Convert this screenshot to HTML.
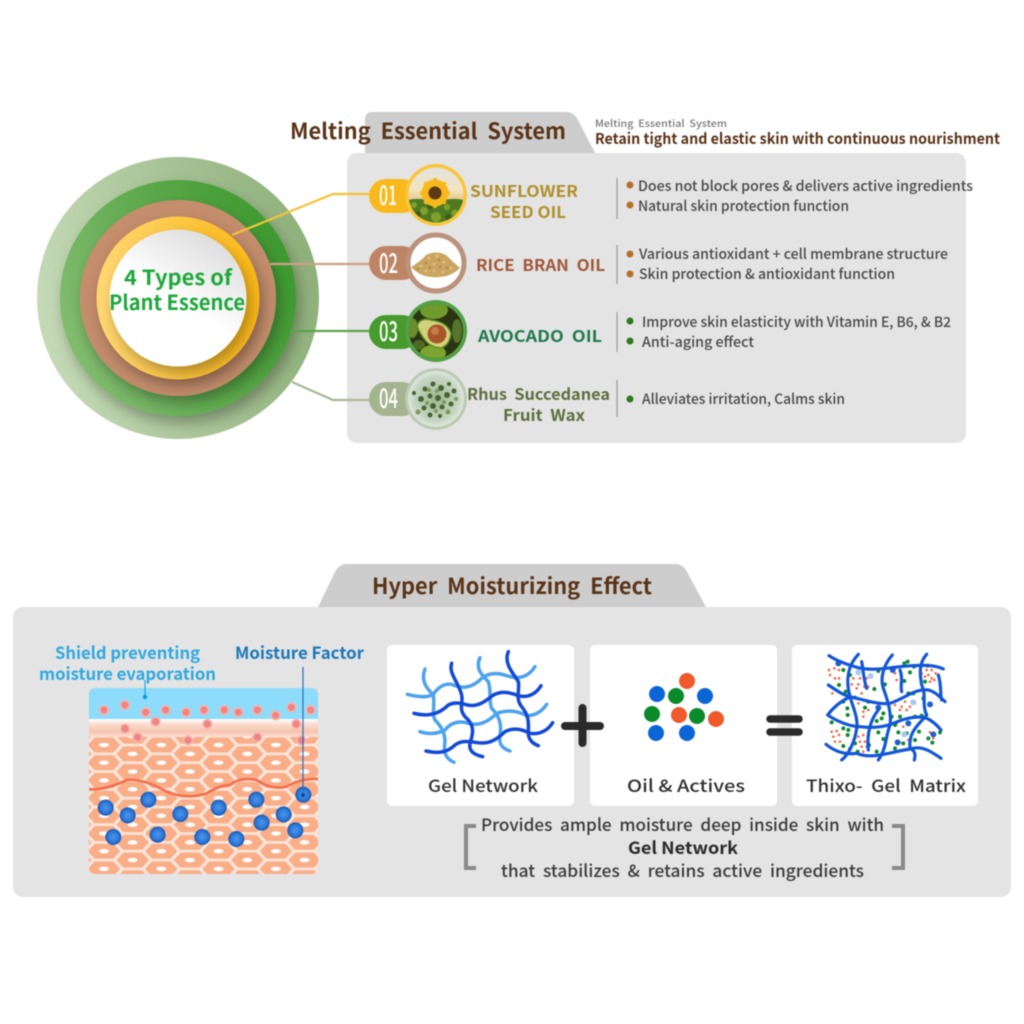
<!DOCTYPE html>
<html><head><meta charset="utf-8"><style>
html,body{margin:0;padding:0;background:#fff;width:1024px;height:1024px;overflow:hidden}
svg{display:block;filter:blur(.5px)}
text{font-family:"Noto Sans CJK KR","Liberation Sans",sans-serif;font-weight:500;white-space:pre}
</style></head><body>
<svg xmlns="http://www.w3.org/2000/svg" width="1024" height="1024" viewBox="0 0 1024 1024">
<defs>
<linearGradient id="g0" x1="0" y1="0.6" x2="1" y2="0.4"><stop offset="0" stop-color="#c6dab8"/><stop offset="1" stop-color="#8eb07a"/></linearGradient>
<linearGradient id="g1" x1="0" y1="0.7" x2="1" y2="0.3"><stop offset="0" stop-color="#84bd72"/><stop offset="1" stop-color="#3b982c"/></linearGradient>
<linearGradient id="g2" x1="0" y1="0.5" x2="1" y2="0.5"><stop offset="0" stop-color="#ffd873"/><stop offset="1" stop-color="#fdb815"/></linearGradient>
<linearGradient id="g3" x1="0.8" y1="0" x2="0.3" y2="0.8"><stop offset="0" stop-color="#d9d9d9"/><stop offset="0.65" stop-color="#fff"/></linearGradient>
<linearGradient id="band" x1="0" y1="0" x2="0" y2="1"><stop offset="0" stop-color="#fff"/><stop offset="0.3" stop-color="#fbdcce"/><stop offset="0.7" stop-color="#f6c4ae"/><stop offset="1" stop-color="#fde0d8"/></linearGradient>
<linearGradient id="sky" x1="0" y1="0" x2="0" y2="1"><stop offset="0" stop-color="#e2e2e2"/><stop offset="0.4" stop-color="#f2e4c0"/><stop offset="0.7" stop-color="#dcb35a"/><stop offset="1" stop-color="#a8962c"/></linearGradient>
<radialGradient id="bl"><stop offset="0" stop-color="#4d94ea"/><stop offset="0.65" stop-color="#2f7ad8"/><stop offset="1" stop-color="#1558b8"/></radialGradient>
<radialGradient id="hb"><stop offset="0" stop-color="#9fb592"/><stop offset="0.8" stop-color="#c7d6c4"/><stop offset="1" stop-color="#dfe8dc"/></radialGradient>
<filter id="sh" x="-30%" y="-30%" width="160%" height="160%"><feDropShadow dx="4" dy="7" stdDeviation="7" flood-color="#000" flood-opacity=".3"/></filter>
<polygon id="hx" points="-16.2,0 -9.4,-7.5 9.4,-7.5 16.2,0 9.4,7.5 -9.4,7.5" fill="#f9ae88"/>
<g id="nu"><ellipse rx="5" ry="2.2" fill="#fff"/></g>
<pattern id="hex" width="57.3" height="17.7" patternUnits="userSpaceOnUse" patternTransform="translate(89.7,740.6)">
<rect width="57.3" height="17.7" fill="#fde6da"/>
<use href="#hx" x="14.3" y="4.4"/><use href="#hx" x="71.6" y="4.4"/><use href="#hx" x="14.3" y="22.1"/><use href="#hx" x="71.6" y="22.1"/>
<use href="#hx" x="43" y="13.3"/><use href="#hx" x="-14.3" y="13.3"/><use href="#hx" x="43" y="-4.4"/><use href="#hx" x="-14.3" y="-4.4"/>
<use href="#nu" x="14.3" y="4.4"/><use href="#nu" x="43" y="13.3"/>
</pattern>
<clipPath id="c1"><circle cx="436" cy="195" r="27.5"/></clipPath>
<clipPath id="c3"><circle cx="436" cy="331" r="27"/></clipPath>
<clipPath id="c4"><circle cx="436" cy="399" r="28"/></clipPath>
<clipPath id="skin"><rect x="89" y="688" width="229" height="186" rx="6"/></clipPath>
</defs>

<!-- top panel -->
<path d="M365 153V120Q365 112 373 112H566Q573 112 577 118L595 153Z" fill="#cdcdcd"/>
<rect x="347" y="153" width="619" height="290" rx="10" fill="#e4e4e4"/>
<text x="290" y="139" font-size="22" fill="#5a3418" style="font-weight:700" textLength="276" lengthAdjust="spacingAndGlyphs">Melting  Essential  System</text>
<text x="595" y="127" font-size="10" fill="#777" textLength="132" lengthAdjust="spacingAndGlyphs">Melting  Essential  System</text>
<text x="595" y="144" font-size="15" fill="#5a3418" style="font-weight:700" textLength="405" lengthAdjust="spacingAndGlyphs">Retain tight and elastic skin with continuous nourishment</text>

<!-- circles -->
<circle cx="178" cy="298" r="141" fill="url(#g0)"/>
<circle cx="178" cy="298" r="118" fill="url(#g1)" filter="url(#sh)"/>
<circle cx="178" cy="298" r="98" fill="#c48d6c" filter="url(#sh)"/>
<circle cx="178" cy="298" r="81.5" fill="url(#g2)" filter="url(#sh)"/>
<circle cx="178" cy="298" r="68.5" fill="url(#g3)" filter="url(#sh)"/>
<text x="124" y="285" font-size="21" fill="#1fa83c" style="font-weight:700" textLength="108" lengthAdjust="spacingAndGlyphs">4 Types of</text>
<text x="109" y="310" font-size="21" fill="#1fa83c" style="font-weight:700" textLength="136" lengthAdjust="spacingAndGlyphs">Plant Essence</text>

<!-- connectors -->
<g fill="none" stroke-width="2.2">
<path d="M232 235L333 194H375" stroke="#f5c23a"/>
<path d="M270 264H375" stroke="#cf9f84"/>
<path d="M290 331H375" stroke="#5da24c"/>
<path d="M292 382L333 400H375" stroke="#a5b893"/>
</g>

<!-- badges -->
<rect x="369" y="179" width="50" height="34" rx="17" fill="#f9b91c"/>
<rect x="369" y="246" width="50" height="34" rx="17" fill="#bd8566"/>
<rect x="369" y="315" width="50" height="34" rx="17" fill="#469a2e"/>
<rect x="369" y="382" width="50" height="34" rx="17" fill="#a3b48e"/>
<g font-size="27" fill="#fff" style="font-weight:400">
<text x="379" y="205" textLength="18" lengthAdjust="spacingAndGlyphs">01</text>
<text x="379" y="273" textLength="19" lengthAdjust="spacingAndGlyphs">02</text>
<text x="379" y="341" textLength="19" lengthAdjust="spacingAndGlyphs">03</text>
<text x="379" y="408" textLength="19" lengthAdjust="spacingAndGlyphs">04</text>
</g>

<!-- icon 1 sunflower -->
<circle cx="436" cy="195" r="31" fill="#fbc63a"/>
<g clip-path="url(#c1)">
<rect x="405" y="165" width="62" height="62" fill="url(#sky)"/>
<path d="M405 201Q420 196 436 203Q452 196 467 201V227H405Z" fill="#4f7a22"/>
<g fill="#7fa02a"><circle cx="414" cy="205" r="3"/><circle cx="424" cy="211" r="4"/><circle cx="447" cy="207" r="3"/><circle cx="455" cy="213" r="3.5"/><circle cx="436" cy="217" r="5"/></g>
<g fill="#3c5c1c"><circle cx="418" cy="214" r="3"/><circle cx="430" cy="207" r="2.5"/><circle cx="448" cy="217" r="3"/></g>
<circle cx="435" cy="193" r="13.5" fill="#f6b81c"/>
<g stroke="#f6b81c" stroke-width="3.4"><path d="M435 178V208M420 193H450M424.5 182.5L445.5 203.5M445.5 182.5L424.5 203.5"/></g>
<circle cx="435" cy="193" r="6.5" fill="#5c3a12"/>
</g>
<!-- icon 2 rice -->
<circle cx="436" cy="263" r="28" fill="#fff" stroke="#bb927c" stroke-width="5"/>
<path d="M411 267Q420 262 426 255Q436 250 446 255Q453 262 460 268Q452 276 440 277Q422 279 411 267Z" fill="#c9a560"/>
<g fill="#dcc28c"><circle cx="421" cy="266" r="1.4"/><circle cx="429" cy="258" r="1.4"/><circle cx="437" cy="256" r="1.4"/><circle cx="444" cy="262" r="1.4"/><circle cx="451" cy="268" r="1.4"/><circle cx="434" cy="271" r="1.4"/><circle cx="426" cy="271" r="1.4"/><circle cx="443" cy="272" r="1.4"/><circle cx="434" cy="264" r="1.4"/></g>
<g fill="#a98748"><circle cx="426" cy="263" r="1.2"/><circle cx="440" cy="267" r="1.2"/><circle cx="447" cy="268" r="1.2"/><circle cx="418" cy="269" r="1.2"/><circle cx="430" cy="268" r="1.2"/><circle cx="439" cy="260" r="1.2"/></g>
<!-- icon 3 avocado -->
<circle cx="436" cy="331" r="31" fill="#53a045"/>
<g clip-path="url(#c3)">
<rect x="405" y="300" width="62" height="62" fill="#2b3514"/>
<ellipse cx="434" cy="310" rx="14" ry="9" fill="#6f9a2e"/><ellipse cx="433" cy="353" rx="13" ry="8" fill="#7ba52e"/><ellipse cx="412" cy="328" rx="6" ry="10" fill="#6b8c2a"/><ellipse cx="457" cy="331" rx="5" ry="12" fill="#55752a"/><ellipse cx="419" cy="345" rx="6" ry="5" fill="#4f6a22"/>
<path d="M417 326Q420 317 431 320Q447 322 451 333Q450 345 441 348Q430 347 425 340Q420 334 417 326Z" fill="#cfd27a" stroke="#5b8a28" stroke-width="1.5"/>
<circle cx="437" cy="334" r="9.5" fill="#a8562a"/><circle cx="435" cy="331" r="4" fill="#c67a46"/>
</g>
<!-- icon 4 herb -->
<circle cx="436" cy="399" r="31" fill="#bccab4"/>
<g clip-path="url(#c4)">
<circle cx="436" cy="399" r="28" fill="url(#hb)"/>
<g fill="#4a6430"><circle cx="425" cy="389" r="2.5"/><circle cx="433" cy="384" r="2.5"/><circle cx="441" cy="388" r="3"/><circle cx="449" cy="384" r="2"/><circle cx="421" cy="399" r="3"/><circle cx="430" cy="396" r="2.5"/><circle cx="438" cy="398" r="3"/><circle cx="447" cy="395" r="3"/><circle cx="454" cy="391" r="2.5"/><circle cx="424" cy="408" r="2.5"/><circle cx="433" cy="406" r="3"/><circle cx="442" cy="407" r="2.5"/><circle cx="451" cy="404" r="2.5"/><circle cx="430" cy="415" r="2.5"/><circle cx="440" cy="416" r="2"/><circle cx="414" cy="393" r="2"/></g>
<g fill="#7e9a5c"><circle cx="429" cy="390" r="2"/><circle cx="437" cy="391" r="2"/><circle cx="444" cy="402" r="2"/><circle cx="427" cy="403" r="2"/><circle cx="436" cy="411" r="2"/><circle cx="448" cy="412" r="2.5"/><circle cx="418" cy="412" r="2.5"/><circle cx="456" cy="399" r="2"/></g>
</g>

<!-- oil names -->
<text x="470" y="197" font-size="16" fill="#b0902a" style="font-weight:700" textLength="108" lengthAdjust="spacingAndGlyphs">SUNFLOWER</text>
<text x="490" y="218" font-size="16" fill="#b0902a" style="font-weight:700" textLength="76" lengthAdjust="spacingAndGlyphs">SEED OIL</text>
<text x="476" y="271" font-size="16" fill="#a0593a" style="font-weight:700" textLength="129" lengthAdjust="spacingAndGlyphs">RICE  BRAN  OIL</text>
<text x="478" y="342" font-size="16" fill="#1f7a4d" style="font-weight:700" textLength="124" lengthAdjust="spacingAndGlyphs">AVOCADO  OIL</text>
<text x="467" y="400" font-size="16" fill="#5f6e3f" style="font-weight:700" textLength="143" lengthAdjust="spacingAndGlyphs">Rhus  Succedanea</text>
<text x="503" y="421" font-size="16" fill="#5f6e3f" style="font-weight:700" textLength="82" lengthAdjust="spacingAndGlyphs">Fruit  Wax</text>

<!-- dividers -->
<g stroke="#9a9a9a" stroke-width="1.2"><path d="M617 178V219M617 245V284M617 312V352M617 380V417"/></g>

<!-- bullets -->
<g fill="#b5702a"><circle cx="630" cy="185" r="3.5"/><circle cx="630" cy="205" r="3.5"/><circle cx="630" cy="254" r="3.5"/><circle cx="630" cy="274" r="3.5"/></g>
<g fill="#2f7a20"><circle cx="630" cy="321" r="3.5"/><circle cx="630" cy="341" r="3.5"/><circle cx="630" cy="399" r="3.5"/></g>
<g font-size="14" fill="#484848" style="font-weight:400">
<text x="638" y="191" textLength="335" lengthAdjust="spacingAndGlyphs">Does not block pores &amp; delivers active ingredients</text>
<text x="638" y="211" textLength="211" lengthAdjust="spacingAndGlyphs">Natural skin protection function</text>
<text x="639" y="259" textLength="309" lengthAdjust="spacingAndGlyphs">Various antioxidant + cell membrane structure</text>
<text x="639" y="279" textLength="256" lengthAdjust="spacingAndGlyphs">Skin protection &amp; antioxidant function</text>
<text x="642" y="327" textLength="309" lengthAdjust="spacingAndGlyphs">Improve skin elasticity with Vitamin E, B6, &amp; B2</text>
<text x="642" y="347" textLength="112" lengthAdjust="spacingAndGlyphs">Anti-aging effect</text>
<text x="642" y="404" textLength="203" lengthAdjust="spacingAndGlyphs">Alleviates irritation, Calms skin</text>
</g>

<!-- bottom panel -->
<path d="M318 607L335 572Q339 564 347 564H675Q683 564 687 572L706 607Z" fill="#cdcdcd"/>
<rect x="13" y="607" width="998" height="290" rx="10" fill="#e4e4e4"/>
<text x="372" y="594" font-size="22" fill="#5a3418" style="font-weight:700" textLength="280" lengthAdjust="spacingAndGlyphs">Hyper  Moisturizing  Effect</text>

<!-- skin -->
<g clip-path="url(#skin)">
<rect x="89" y="688" width="229" height="186" fill="#fde6da"/>
<rect x="89" y="688" width="229" height="31" fill="#8edcfb"/>
<rect x="89" y="719" width="229" height="18" fill="url(#band)"/>
<rect x="89" y="737" width="229" height="137" fill="url(#hex)"/>
<g transform="translate(0,630) scale(.33333)">
<path d="M268 478Q320 480 380 450Q430 445 500 485Q560 510 620 490Q660 465 690 465Q720 440 770 450Q810 480 860 470Q900 445 955 447" fill="none" stroke="#f56f4d" stroke-width="8"/>
<g fill="#ee8484" stroke="#f7b3ab" stroke-width="5">
<circle cx="312" cy="240" r="13"/><circle cx="375" cy="225" r="13"/><circle cx="437" cy="247" r="13"/><circle cx="497" cy="240" r="13"/><circle cx="558" cy="247" r="13"/><circle cx="612" cy="240" r="13"/><circle cx="673" cy="240" r="13"/><circle cx="715" cy="247" r="13"/><circle cx="772" cy="240" r="13"/><circle cx="827" cy="256" r="13"/><circle cx="874" cy="232" r="13"/><circle cx="932" cy="240" r="13"/><circle cx="467" cy="275" r="13"/><circle cx="622" cy="282" r="13"/><circle cx="889" cy="282" r="13"/><circle cx="375" cy="296" r="13"/><circle cx="413" cy="322" r="13"/><circle cx="564" cy="331" r="13"/><circle cx="772" cy="322" r="13"/><circle cx="904" cy="331" r="13"/>
</g>
<g fill="url(#bl)">
<circle cx="317" cy="533" r="24"/><circle cx="383" cy="556" r="24"/><circle cx="445" cy="509" r="24"/><circle cx="541" cy="552" r="24"/><circle cx="656" cy="533" r="24"/><circle cx="769" cy="509" r="24"/><circle cx="910" cy="494" r="24"/><circle cx="851" cy="553" r="24"/><circle cx="785" cy="578" r="24"/><circle cx="886" cy="601" r="24"/><circle cx="340" cy="621" r="24"/><circle cx="473" cy="614" r="24"/><circle cx="607" cy="621" r="24"/><circle cx="709" cy="627" r="24"/>
</g>
</g>
</g>
<path d="M303 667V795" stroke="#2b6cc4" stroke-width="1.2"/><circle cx="303" cy="795" r="2" fill="#0f4aa0"/>
<path d="M145 680V697" stroke="#22a5dc" stroke-width="1.2"/><circle cx="145" cy="697" r="2.2" fill="#0a9bd6"/>
<text x="55" y="659" font-size="17" fill="#2fa9e0" style="font-weight:700" textLength="145" lengthAdjust="spacingAndGlyphs">Shield preventing</text>
<text x="39" y="680" font-size="17" fill="#2fa9e0" style="font-weight:700" textLength="177" lengthAdjust="spacingAndGlyphs">moisture evaporation</text>
<text x="235" y="659" font-size="17" fill="#1d78b8" style="font-weight:700" textLength="129" lengthAdjust="spacingAndGlyphs">Moisture Factor</text>

<!-- cards -->
<rect x="387" y="645" width="187" height="161" rx="5" fill="#fff"/>
<rect x="590" y="645" width="187" height="161" rx="5" fill="#fff"/>
<rect x="792" y="645" width="186" height="161" rx="5" fill="#fff"/>

<!-- gel network -->
<g transform="translate(400,645) scale(.33333)" fill="none" stroke-linecap="round" stroke-width="10.5">
<g stroke="#4da3ee">
<path d="M22 148C50 155 80 160 100 148C115 125 135 115 155 118C190 135 220 125 245 100C270 80 300 85 320 92C360 105 385 95 405 65"/>
<path d="M60 260C90 270 115 265 135 255C150 235 175 225 205 235C240 245 270 225 290 205C320 195 350 195 380 212C405 212 425 200 440 178"/>
<path d="M75 72C60 110 85 135 100 150C105 185 95 205 105 225C125 245 135 265 135 290C130 320 135 340 162 352"/>
<path d="M240 38C225 70 245 90 265 110C275 140 265 165 275 190C300 215 305 240 300 270C295 295 305 310 330 318"/>
</g>
<g stroke="#1249d6">
<path d="M42 205C80 215 115 210 145 180C165 170 180 175 195 178C230 190 255 170 280 150C310 135 335 145 355 152C385 160 410 145 423 122"/>
<path d="M78 318C110 325 140 325 165 300C185 285 205 290 225 292C265 300 290 285 315 260C345 245 370 255 390 265C420 270 445 255 458 233"/>
<path d="M155 55C145 85 175 110 185 150C190 180 175 190 195 215C225 240 220 265 210 295C205 320 225 330 248 335"/>
<path d="M325 20C310 55 340 85 355 110C360 135 345 160 365 185C390 215 385 240 385 265C385 280 395 295 415 302"/>
</g>
</g>
<path d="M565 726H600M582.5 708V743" stroke="#2a2a2a" stroke-width="8" stroke-linecap="round" fill="none"/>

<!-- oil dots -->
<circle cx="687" cy="681" r="8" fill="#f0592a"/>
<circle cx="657" cy="694" r="8" fill="#0a66d6"/><circle cx="676" cy="696" r="8" fill="#0a8a2a"/><circle cx="705" cy="696" r="8" fill="#0a66d6"/>
<circle cx="652" cy="714" r="8" fill="#0a8a2a"/><circle cx="679" cy="715" r="8" fill="#f0592a"/><circle cx="697" cy="716" r="8" fill="#0a8a2a"/><circle cx="716" cy="719" r="8" fill="#f0592a"/>
<circle cx="656" cy="733" r="8" fill="#0a66d6"/><circle cx="687" cy="733" r="8" fill="#0a66d6"/>
<path d="M770 719H799M770 732H799" stroke="#2a2a2a" stroke-width="7.5" stroke-linecap="round" fill="none"/>

<!-- matrix -->
<g transform="translate(815,645) scale(.33333)">
<g fill="#f0694a">
<circle cx="42" cy="75" r="4"/><circle cx="58" cy="70" r="4"/><circle cx="72" cy="75" r="4"/><circle cx="45" cy="90" r="4"/><circle cx="60" cy="100" r="4"/><circle cx="72" cy="100" r="4"/><circle cx="52" cy="145" r="4"/>
<circle cx="115" cy="100" r="4"/><circle cx="110" cy="118" r="4"/><circle cx="135" cy="100" r="4"/><circle cx="155" cy="100" r="4"/><circle cx="130" cy="118" r="4"/><circle cx="148" cy="125" r="4"/><circle cx="160" cy="125" r="4"/><circle cx="125" cy="130" r="4"/><circle cx="140" cy="145" r="4"/>
<circle cx="240" cy="85" r="4"/><circle cx="245" cy="105" r="4"/><circle cx="260" cy="115" r="4"/><circle cx="240" cy="70" r="4"/>
<circle cx="320" cy="85" r="4"/><circle cx="335" cy="75" r="4"/><circle cx="350" cy="75" r="4"/><circle cx="362" cy="85" r="4"/><circle cx="340" cy="90" r="4"/><circle cx="350" cy="100" r="4"/><circle cx="330" cy="95" r="4"/><circle cx="358" cy="105" r="4"/><circle cx="345" cy="110" r="4"/>
<circle cx="260" cy="185" r="4"/><circle cx="270" cy="170" r="4"/><circle cx="285" cy="185" r="4"/><circle cx="275" cy="195" r="4"/><circle cx="255" cy="195" r="4"/><circle cx="290" cy="170" r="4"/><circle cx="240" cy="180" r="4"/>
<circle cx="145" cy="200" r="4"/><circle cx="160" cy="195" r="4"/><circle cx="145" cy="215" r="4"/><circle cx="130" cy="175" r="4"/><circle cx="145" cy="165" r="4"/>
<circle cx="50" cy="260" r="4"/><circle cx="65" cy="258" r="4"/><circle cx="72" cy="270" r="4"/><circle cx="55" cy="275" r="4"/><circle cx="60" cy="290" r="4"/><circle cx="75" cy="290" r="4"/>
<circle cx="130" cy="275" r="4"/><circle cx="145" cy="270" r="4"/><circle cx="160" cy="275" r="4"/><circle cx="135" cy="290" r="4"/><circle cx="150" cy="290" r="4"/><circle cx="160" cy="295" r="4"/><circle cx="140" cy="305" r="4"/><circle cx="155" cy="305" r="4"/>
<circle cx="245" cy="235" r="4"/><circle cx="265" cy="245" r="4"/><circle cx="280" cy="285" r="4"/><circle cx="270" cy="315" r="4"/><circle cx="262" cy="295" r="4"/><circle cx="355" cy="280" r="4"/><circle cx="345" cy="262" r="4"/><circle cx="145" cy="320" r="4"/>
</g>
<g fill="#0f8a2e">
<circle cx="85" cy="75" r="6"/><circle cx="105" cy="90" r="6"/><circle cx="72" cy="120" r="6"/><circle cx="178" cy="132" r="6"/><circle cx="190" cy="78" r="6"/><circle cx="268" cy="55" r="6"/><circle cx="297" cy="65" r="6"/><circle cx="338" cy="62" r="6"/><circle cx="285" cy="82" r="6"/><circle cx="268" cy="108" r="6"/><circle cx="330" cy="110" r="6"/><circle cx="210" cy="118" r="6"/><circle cx="120" cy="158" r="6"/><circle cx="160" cy="170" r="6"/><circle cx="150" cy="188" r="6"/><circle cx="97" cy="190" r="6"/><circle cx="98" cy="210" r="6"/><circle cx="85" cy="170" r="6"/><circle cx="230" cy="215" r="6"/><circle cx="205" cy="205" r="6"/><circle cx="200" cy="220" r="6"/><circle cx="185" cy="228" r="6"/><circle cx="255" cy="215" r="6"/><circle cx="280" cy="145" r="6"/><circle cx="295" cy="145" r="6"/><circle cx="325" cy="160" r="6"/><circle cx="300" cy="215" r="6"/><circle cx="320" cy="212" r="6"/><circle cx="50" cy="232" r="6"/><circle cx="85" cy="250" r="6"/><circle cx="100" cy="255" r="6"/><circle cx="98" cy="270" r="6"/><circle cx="128" cy="245" r="6"/><circle cx="190" cy="262" r="6"/><circle cx="205" cy="282" r="6"/><circle cx="240" cy="240" r="6"/><circle cx="250" cy="262" r="6"/><circle cx="275" cy="265" r="6"/><circle cx="312" cy="260" r="6"/><circle cx="300" cy="285" r="6"/><circle cx="340" cy="280" r="6"/><circle cx="352" cy="293" r="6"/><circle cx="375" cy="262" r="6"/><circle cx="85" cy="303" r="6"/><circle cx="105" cy="312" r="6"/><circle cx="128" cy="320" r="6"/><circle cx="185" cy="320" r="6"/><circle cx="240" cy="310" r="6"/><circle cx="265" cy="295" r="6"/><circle cx="120" cy="295" r="6"/><circle cx="162" cy="300" r="6"/><circle cx="278" cy="50" r="6"/><circle cx="92" cy="140" r="6"/>
</g>
<g fill="#a9c8ee"><circle cx="130" cy="82" r="9"/><circle cx="167" cy="93" r="9"/><circle cx="295" cy="172" r="9"/><circle cx="268" cy="268" r="9"/></g>
<g fill="#1f5fd0"><circle cx="70" cy="55" r="9"/><circle cx="233" cy="75" r="9"/><circle cx="190" cy="188" r="9"/><circle cx="345" cy="178" r="9"/><circle cx="355" cy="268" r="9"/><circle cx="248" cy="292" r="9"/><circle cx="280" cy="235" r="9"/></g>
<g fill="none" stroke="#1256d8" stroke-linecap="round" stroke-width="9.5">
<path d="M42 32C70 50 100 60 130 68C180 80 230 65 290 62C330 60 360 60 385 72"/>
<path d="M40 120C70 140 85 150 105 155C150 165 190 180 225 175C270 160 300 130 340 135C360 140 375 155 390 170"/>
<path d="M38 210C60 180 85 165 105 155"/>
<path d="M38 210C60 225 100 245 135 245C175 250 210 245 235 235C280 215 320 210 345 225C360 235 370 245 378 255"/>
<path d="M33 298C60 320 90 330 125 325C170 345 230 320 285 312C320 300 350 320 378 340"/>
<path d="M130 28C100 60 90 100 105 155C115 190 130 220 125 250C120 290 100 330 80 345"/>
<path d="M232 30C205 60 195 100 205 130C220 170 230 210 225 240C210 280 215 310 190 345"/>
<path d="M335 28C310 55 315 90 320 120C335 150 320 180 335 210C310 240 280 260 285 310C305 320 300 335 298 345"/>
<path d="M140 50C145 75 145 100 155 130"/>
<path d="M160 315C155 270 165 225 190 195"/>
<path d="M370 90C380 120 375 150 380 165"/>
<path d="M255 75C265 100 255 120 260 140"/>
</g>
</g>

<!-- card labels -->
<g font-size="17" fill="#2f2f2f">
<text x="428" y="792" textLength="110" lengthAdjust="spacingAndGlyphs">Gel Network</text>
<text x="627" y="792" textLength="118" lengthAdjust="spacingAndGlyphs">Oil &amp; Actives</text>
<text x="806" y="792" textLength="160" lengthAdjust="spacingAndGlyphs">Thixo-  Gel  Matrix</text>
</g>

<!-- caption -->
<path d="M476 826H466V868H476M892 826H903V868H892" fill="none" stroke="#8a8a8a" stroke-width="4"/>
<g font-size="17" fill="#3a3a3a" style="font-weight:400">
<text x="481" y="831" textLength="403" lengthAdjust="spacingAndGlyphs">Provides  ample  moisture  deep  inside  skin  with</text>
<text x="501" y="877" textLength="363" lengthAdjust="spacingAndGlyphs">that  stabilizes  &amp;  retains  active  ingredients</text>
</g>
<text x="628" y="854" font-size="17" fill="#2a2a2a" style="font-weight:700" textLength="110" lengthAdjust="spacingAndGlyphs">Gel Network</text>
</svg>
</body></html>
